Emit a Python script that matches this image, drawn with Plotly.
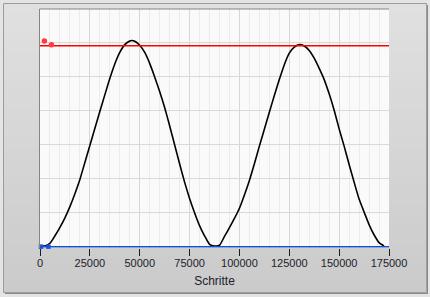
import plotly.graph_objects as go

# ---- data ----
steps = [0, 2500, 5000, 7500, 10000, 12500, 15000, 17500, 20000, 22500, 25000,
         27500, 30000, 32500, 35000, 37500, 40000, 42500, 45000, 46000, 47500,
         50000, 52500, 55000, 57500, 60000, 62500, 65000, 67500, 70000, 72500,
         75000, 77500, 80000, 82500, 85000, 87500,
         90000, 92500, 95000, 97500, 100000, 102500, 105000, 107500, 110000, 112500,
         115000, 117500, 120000, 122500, 125000, 127500, 130000, 132500, 135000,
         137500, 140000, 142500, 145000, 147500, 150000, 152500, 155000, 157500,
         160000, 162500, 165000, 167500, 170000, 172500]
values = [0.02, 0.02, 0.1, 0.32, 0.57, 0.85, 1.18, 1.56, 1.98, 2.48, 2.98,
          3.48, 3.98, 4.47, 4.95, 5.38, 5.72, 5.95, 6.06, 6.07, 6.05,
          5.93, 5.72, 5.4, 5.0, 4.57, 4.1, 3.56, 3.0, 2.44, 1.9,
          1.42, 1.0, 0.62, 0.32, 0.07, 0.02,
          0.04, 0.3, 0.56, 0.83, 1.13, 1.52, 1.95, 2.44, 2.96, 3.46,
          3.96, 4.45, 4.92, 5.36, 5.7, 5.88, 5.95, 5.91, 5.78,
          5.55, 5.25, 4.92, 4.5, 4.02, 3.47, 2.96, 2.42, 1.9,
          1.4, 1.02, 0.65, 0.35, 0.12, 0.02]

max_line_x = [0, 175000]
max_line_y = [5.92, 5.92]
max_marks_x = [2200, 5700]
max_marks_y = [6.06, 5.95]

min_line_x = [0, 175000]
min_line_y = [0, 0]
min_marks_x = [500, 4200]
min_marks_y = [0, 0]

x_ticks = [0, 25000, 50000, 75000, 100000, 125000, 150000, 175000]
x_title = "Schritte"

# ---- figure ----
W, H = 430, 297
L, R, T, B = 40, 41, 9, 49
pw, ph = W - L - R, H - T - B


def px_x(p):
    return (p - L) / pw


def px_y(p):
    return (H - B - p) / ph


fig = go.Figure()
fig.add_trace(go.Scatter(x=steps, y=values, mode="lines",
                         line=dict(color="#000000", width=1.6, shape="spline", smoothing=0.5),
                         hoverinfo="skip"))
fig.add_trace(go.Scatter(x=max_line_x, y=max_line_y, mode="lines",
                         line=dict(color="#ff0000", width=1.5), hoverinfo="skip"))
fig.add_trace(go.Scatter(x=max_marks_x, y=max_marks_y, mode="markers",
                         marker=dict(color="#ff3b3b", size=5.5), hoverinfo="skip", cliponaxis=False))
fig.add_trace(go.Scatter(x=min_line_x, y=min_line_y, mode="lines",
                         line=dict(color="#0f4fd0", width=1.5), hoverinfo="skip", cliponaxis=False))
fig.add_trace(go.Scatter(x=min_marks_x, y=min_marks_y, mode="markers",
                         marker=dict(color="#1a55d8", size=4.5, symbol="square"),
                         hoverinfo="skip", cliponaxis=False))

shapes = []
# outer panel with a simple vertical gradient
top, bot = 3, 292
n = 30
c0, c1 = 0xE0, 0xCB
for i in range(n):
    y0 = top + (bot - top) * i / n
    y1 = top + (bot - top) * (i + 1) / n + 0.6
    c = int(round(c0 + (c1 - c0) * i / (n - 1)))
    col = "#%02x%02x%02x" % (c, c, c)
    shapes.append(dict(type="rect", xref="paper", yref="paper", layer="below",
                       x0=px_x(3), x1=px_x(426), y0=px_y(y1), y1=px_y(y0),
                       fillcolor=col, line=dict(width=0)))
shapes.append(dict(type="rect", xref="paper", yref="paper", layer="below",
                   x0=px_x(3.5), x1=px_x(426.5), y0=px_y(292.5), y1=px_y(3.5),
                   fillcolor="rgba(0,0,0,0)", line=dict(color="#9c9c9c", width=1)))
shapes.append(dict(type="line", xref="paper", yref="paper", layer="below",
                   x0=px_x(427.5), x1=px_x(427.5), y0=px_y(293), y1=px_y(5),
                   line=dict(color="#8a8a8a", width=1)))
shapes.append(dict(type="line", xref="paper", yref="paper", layer="below",
                   x0=px_x(5), x1=px_x(428), y0=px_y(293.5), y1=px_y(293.5),
                   line=dict(color="#8a8a8a", width=1)))
# plot area background
shapes.append(dict(type="rect", xref="paper", yref="paper", layer="below",
                   x0=0, x1=1, y0=0, y1=1, fillcolor="#fafafa", line=dict(width=0)))
# plot frame (top & left)
shapes.append(dict(type="line", xref="paper", yref="paper", layer="above",
                   x0=px_x(39.5), x1=1, y0=1, y1=1, line=dict(color="#858585", width=1)))
shapes.append(dict(type="line", xref="paper", yref="paper", layer="above",
                   x0=px_x(39.5), x1=px_x(39.5), y0=0, y1=1, line=dict(color="#858585", width=1)))

fig.update_layout(
    width=W, height=H,
    margin=dict(l=L, r=R, t=T, b=B, pad=0),
    paper_bgcolor="#e4e4e4",
    plot_bgcolor="rgba(0,0,0,0)",
    showlegend=False,
    shapes=shapes,
    font=dict(family="Liberation Sans", size=11, color="#1c1c2a"),
    xaxis=dict(range=[0, 175000], tickmode="array", tickvals=x_ticks,
               ticktext=[str(v) for v in x_ticks],
               ticks="outside", ticklen=7, tickcolor="#1c1c1c", tickwidth=1,
               ticklabelstandoff=-2,
               showgrid=True, gridcolor="#d6d6d6", gridwidth=1,
               minor=dict(dtick=5000, showgrid=True, gridcolor="#ececec", gridwidth=1),
               zeroline=False, showline=False,
               tickfont=dict(family="Liberation Sans", size=11, color="#1c1c2a"),
               title=dict(text=x_title, standoff=8,
                          font=dict(family="Liberation Sans", size=12, color="#1c1c2a"))),
    yaxis=dict(range=[-0.04, 7.0], tick0=0, dtick=1, showticklabels=False, ticks="",
               showgrid=True, gridcolor="#d9d9d9", gridwidth=1,
               zeroline=False, showline=False),
)

fig.write_html("out.html")
